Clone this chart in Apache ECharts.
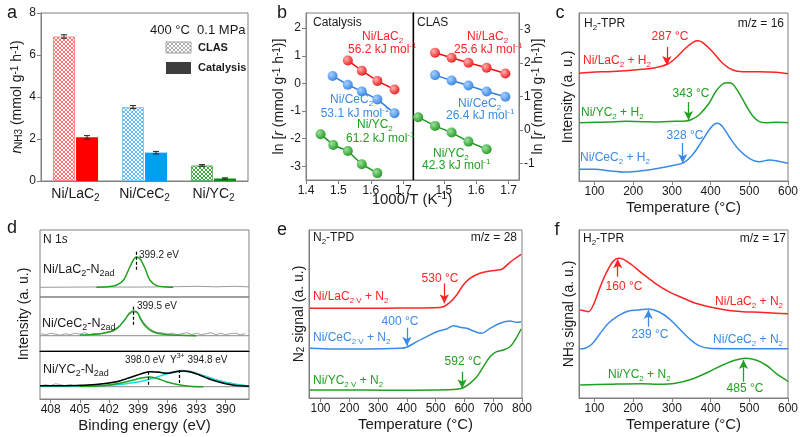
<!DOCTYPE html>
<html>
<head>
<meta charset="utf-8">
<title>Ni/RC2 N2 activation</title>
<script src="https://cdn.jsdelivr.net/npm/echarts@6/dist/echarts.min.js"></script>
<style>html,body{margin:0;padding:0;background:#fff}</style>
</head>
<body>
<div id="chart" style="width:800px;height:437px;"></div>
<script>
// ---------------- data ----------------
// (a) NH3 rate at 400 C, 0.1 MPa
const samples = ['Ni/LaC{s|2}', 'Ni/CeC{s|2}', 'Ni/YC{s|2}'];
const rateCLAS = [6.88, 3.52, 0.74];
const rateCLASErr = [0.08, 0.07, 0.04];
const rateCat = [2.08, 1.35, 0.12];
const rateCatErr = [0.08, 0.06, 0.03];

// (b) Arrhenius plots, [1000/T, ln r]
const arrCatLa = [[1.529, 0.83], [1.572, 0.46], [1.620, 0.09], [1.673, -0.22]];
const arrCatCe = [[1.482, 0.27], [1.529, -0.05], [1.572, -0.29], [1.620, -0.58], [1.673, -1.08]];
const arrCatY  = [[1.445, -1.84], [1.484, -2.23], [1.529, -2.45], [1.572, -2.93], [1.620, -3.25]];
const arrClasLa = [[1.473, 2.31], [1.524, 2.16], [1.576, 2.01], [1.632, 1.86], [1.690, 1.69]];
const arrClasCe = [[1.473, 1.64], [1.524, 1.48], [1.576, 1.33], [1.632, 1.15], [1.690, 0.99]];
const arrClasY  = [[1.421, 0.38], [1.473, 0.12], [1.524, -0.08], [1.576, -0.35], [1.632, -0.58]];

// (c) H2-TPR, m/z = 16  [T, intensity a.u.]
const tprLaH2 = [[60,107.7],[102,109],[136,109.3],[180,110.3],[223,111.7],[257,113.3],[288,116.7],[309,122.7],[335,132.7],[357,139.3],[366,140.3],[379,138.7],[405,129.3],[431,117.7],[457,111],[483,109.3],[526,109.3],[569,108.7],[600,107.2]];
const tprYH2  = [[60,58.3],[102,58.7],[136,59],[180,59.7],[223,59.3],[266,59],[309,59.7],[335,60],[348,61],[370,66],[396,77.7],[413,89.3],[431,97],[444,98.3],[457,97],[474,87.7],[491,76],[509,65],[526,59.3],[543,58.3],[569,58.7],[600,58.3]];
const tprCeH2 = [[60,11.7],[102,11.7],[136,10.3],[180,9],[223,10.3],[266,12.7],[309,16],[331,18.3],[353,26],[374,37.7],[396,51],[409,56.7],[418,57.7],[431,54.3],[448,44.3],[474,31],[500,22.7],[526,19.3],[552,21],[569,20.3],[600,17.7]];
const tprH2Arrows = {la: [287, 134, 116], y: [343, 79, 61], ce: [328, 38, 18]};

// (d) N 1s XPS  [binding energy, intensity a.u.]
const xpsLaFit = [[403.3,0],[401.9,0.7],[401.2,2.3],[400.5,7.3],[400.0,17.3],[399.5,27.3],[399.2,30.3],[398.8,28.3],[398.3,19],[397.8,7.3],[397.1,1.7],[396.1,0.3],[395.4,0]];
const xpsLaRaw = [[409.1,0],[404,0.3],[399.2,0.2],[395,0.6],[393,1],[391,0.5],[389,1],[387.6,0.4]];
const xpsCeFit = [[405.0,0.7],[403.3,1.4],[401.9,4],[401.1,8],[400.4,15.7],[399.9,22.4],[399.5,24.7],[399.1,23.4],[398.7,15.7],[398.2,9],[397.5,4],[396.4,1.4],[394.7,0.4],[393.0,0]];
const xpsCeRaw = [[409,2],[408.5,1],[408,2.5],[407.5,1.5],[407,0.5],[406.5,2],[406,1],[405.5,2.5],[405,1.5],[404.5,3],[404,1],[403.5,2.5],[403,1.5],[402.5,3],[402,4],[401.5,4.5],[401,8],[400.5,14],[400,21],[399.5,24],[399,22],[398.5,14],[398,9],[397.5,5],[397,3],[396.5,3],[396,1.5],[395.5,2.5],[395,1],[394.5,2],[394,3],[393.5,1],[393,2.5],[392.5,1],[392,2],[391.5,3],[391,1],[390.5,2.5],[390,1],[389.5,2],[389,2.5],[388.5,1],[388,2]];
const xpsYSum  = [[409.1,1],[406.7,1],[403.3,2.3],[401.2,5],[399.9,9],[398.5,13.4],[397.8,15],[396.8,14.4],[396.1,13.4],[395.1,15],[394.4,15.7],[393.7,15],[392.7,11.7],[391.7,7.7],[390.6,4.4],[389.3,1.7],[387.6,0.4]];
const xpsYN2   = [[405.0,0.4],[402.6,1],[400.9,3.4],[399.5,6.7],[398.5,9],[397.9,9.7],[397.1,8.4],[396.1,5],[395.1,2.4],[393.7,0.4],[392.3,0]];
const xpsYY3   = [[409.1,0.7],[405.0,0.7],[401.6,1.7],[399.2,4.4],[397.5,8.4],[396.1,12.7],[395.1,15],[394.6,15.7],[393.7,14.7],[392.3,11],[391.0,6.7],[389.6,3.4],[387.6,0.7]];
const xpsYRaw  = [[409,1],[408.5,2],[408,1],[407.5,3],[407,2],[406.5,1],[406,2],[405.5,1],[405,2],[404.5,1],[404,2],[403,2.5],[402,3.5],[401,5.5],[400,8.5],[399.5,10],[399,12],[398.5,13.5],[398,15],[397.5,15.5],[397,15],[396.5,14],[396,14],[395.5,15],[395,16],[394.5,16.5],[394,16],[393.5,15.5],[393,14],[392.5,12],[392,10.5],[391.5,9],[391,7],[390.5,6],[390,4.5],[389.5,4],[389,2.5],[388.5,2],[388,1]];
const xpsLaPeak = [399.2, 35.6, 17.3];
const xpsCePeak = [399.5, 29, 10.7];
const xpsYPeaks = [[398.0, 15, 0], [394.8, 16.7, 2.4]];

// (e) N2-TPD, m/z = 28
const tpdLa = [[63,89.7],[145,89.7],[260,89.7],[376,90],[492,90.3],[527,91.3],[550,95.7],[573,103],[596,113],[619,119.7],[654,124.7],[689,127],[724,128.3],[735,129.7],[758,135.7],[782,140.7],[797,143.7]];
const tpdCe = [[63,49.7],[145,49],[260,49],[376,49.7],[399,50.7],[434,56.3],[469,61.3],[504,66.3],[538,69],[562,72.3],[585,70.7],[608,69.7],[631,67],[660,64.7],[689,69.7],[724,74.7],[758,77],[782,75.7],[797,76.3]];
const tpdY  = [[63,8],[145,8],[260,8],[376,7.7],[492,8],[573,8.7],[596,10.3],[619,14.7],[643,21.3],[666,31.3],[689,41.3],[712,46.3],[735,48],[758,51.3],[776,58],[797,69]];
const tpdArrows = {la: [530, 114.7, 94.7], ce: [400, 70.3, 52.3], y: [592, 26.3, 9.7]};

// (f) H2-TPR after N2, m/z = 17
const nh3La = [[63,88],[76,87],[84,86.3],[97,93],[115,111.3],[132,126.3],[149,137],[162,139.7],[175,138.7],[197,133],[223,124.7],[257,114.7],[292,106.3],[327,100.3],[361,94.7],[396,91.3],[439,88],[483,86.3],[526,85.7],[569,84.7],[600,84.3]];
const nh3Ce = [[63,49],[76,49.7],[93,53.7],[115,64.7],[136,74.7],[162,82.3],[188,87],[214,88],[240,89],[266,86.3],[292,79.7],[318,69.7],[344,59.7],[370,52.3],[396,49.7],[439,49.3],[600,49.3]];
const nh3Y  = [[63,13],[136,13.7],[223,14.3],[266,13.7],[309,14.7],[353,19],[396,26.3],[431,33],[465,38],[491,39.7],[517,38],[543,33],[569,24.7],[595,18],[600,16.3]];
const nh3Arrows = {la: [160, 121.3, 138.7], ce: [239, 71.3, 88], y: [485, 16.3, 38]};

// ---------------- style helpers ----------------
const FONT = 'Arial, "Liberation Sans", sans-serif';
const RED = '#ff2323', BLUE = '#3a8ae6', GREEN = '#22a022', GRAY = '#808080', INK = '#1a1a1a';

function merge(a, b) {
    const out = Object.assign({}, a);
    for (const k in b) {
        const v = b[k];
        if (v && typeof v === 'object' && !Array.isArray(v) && a[k] && typeof a[k] === 'object' && !Array.isArray(a[k])) {
            out[k] = merge(a[k], v);
        } else {
            out[k] = v;
        }
    }
    return out;
}

function rich(fs, color) {
    const c = color || INK;
    const small = Math.round(fs * 0.7);
    return {
        s: {fontSize: small, fill: c, color: c, verticalAlign: 'bottom', fontFamily: FONT},
        p: {fontSize: small, fill: c, color: c, verticalAlign: 'top', fontFamily: FONT},
        i: {fontSize: fs, fill: c, color: c, fontStyle: 'italic', fontFamily: FONT}
    };
}

function hatch(stroke) {
    const c = document.createElement('canvas');
    c.width = 4; c.height = 4;
    const g = c.getContext('2d');
    g.fillStyle = '#fff';
    g.fillRect(0, 0, 4, 4);
    g.strokeStyle = stroke;
    g.lineWidth = 1;
    g.beginPath();
    g.moveTo(0, 0); g.lineTo(4, 4);
    g.moveTo(4, 0); g.lineTo(0, 4);
    g.stroke();
    return {image: c, repeat: 'repeat'};
}

function ball(c0, c1) {
    return {type: 'radial', x: 0.35, y: 0.35, r: 0.75,
        colorStops: [{offset: 0, color: c0}, {offset: 1, color: c1}]};
}

// text placed on the figure
function T(x, y, text, o) {
    o = o || {};
    const fs = o.size || 12;
    const color = o.color || INK;
    return {
        type: 'text', x: x, y: y, silent: true, rotation: o.rot || 0, z: 50,
        style: {
            text: text, fill: color, fontSize: fs, fontFamily: FONT,
            fontWeight: o.bold ? 'bold' : 'normal',
            lineHeight: fs + 4,
            align: o.align || 'left', verticalAlign: 'middle',
            textAlign: o.align || 'left', textVerticalAlign: 'middle',
            rich: rich(fs, color)
        }
    };
}

// ---------------- layout ----------------
const grids = [
    {left: 41,  top: 13,  width: 207, height: 168},  // a
    {left: 306, top: 13,  width: 107, height: 167},  // b catalysis
    {left: 413, top: 13,  width: 106, height: 167},  // b CLAS
    {left: 579, top: 13,  width: 209, height: 168},  // c
    {left: 40,  top: 230, width: 209, height: 67},   // d LaC2
    {left: 40,  top: 297, width: 209, height: 54},   // d CeC2
    {left: 40,  top: 351, width: 209, height: 48},   // d YC2
    {left: 309, top: 230, width: 213, height: 168},  // e
    {left: 579, top: 230, width: 209, height: 168}   // f
].map(g => Object.assign({show: true, borderColor: GRAY, borderWidth: 1, outerBoundsMode: 'none'}, g));

const axisBase = {
    type: 'value',
    axisLine: {show: true, onZero: false, lineStyle: {color: GRAY, width: 1}},
    axisTick: {show: true, inside: false, length: 4, lineStyle: {color: GRAY}},
    axisLabel: {color: INK, fontSize: 12, fontFamily: FONT, margin: 5},
    splitLine: {show: false},
    nameTextStyle: {color: INK, fontSize: 15, fontFamily: FONT}
};
function ax(o) { return merge(axisBase, o); }
const noAxis = {axisLabel: {show: false}, axisTick: {show: false}};
const tempX = (grid, max, ticks) => ax({
    gridIndex: grid, min: 60, max: max, name: 'Temperature (°C)', nameLocation: 'middle', nameGap: 19,
    axisLabel: {customValues: ticks}, axisTick: {customValues: ticks}
});
const yName = {nameLocation: 'middle', nameRotate: 90, nameTextStyle: {fontSize: 14, rich: rich(14)}};

const xAxes = [
    ax({type: 'category', gridIndex: 0, data: samples, axisTick: {show: false},
        axisLabel: {interval: 0, fontSize: 14, margin: 5, rich: rich(14), lineHeight: 17}}),
    ax({gridIndex: 1, min: 1.4, max: 1.73,
        axisLabel: {customValues: [1.4, 1.5, 1.6, 1.7], formatter: v => v.toFixed(1)},
        axisTick: {customValues: [1.4, 1.5, 1.6, 1.7]}}),
    ax({gridIndex: 2, min: 1.405, max: 1.732,
        axisLabel: {customValues: [1.5, 1.6, 1.7], formatter: v => v.toFixed(1)},
        axisTick: {customValues: [1.5, 1.6, 1.7]}}),
    tempX(3, 600, [100, 200, 300, 400, 500, 600]),
    ax(merge(noAxis, {gridIndex: 4, min: 387.6, max: 409.1, inverse: true, axisLine: {show: false}})),
    ax(merge(noAxis, {gridIndex: 5, min: 387.6, max: 409.1, inverse: true, axisLine: {show: false}})),
    ax({gridIndex: 6, min: 387.6, max: 409.1, inverse: true,
        name: 'Binding energy (eV)', nameLocation: 'middle', nameGap: 19,
        axisLabel: {customValues: [390, 393, 396, 399, 402, 405, 408]},
        axisTick: {customValues: [390, 393, 396, 399, 402, 405, 408]}}),
    tempX(7, 800, [100, 200, 300, 400, 500, 600, 700, 800]),
    tempX(8, 600, [100, 200, 300, 400, 500, 600]),
    // black divider above the Ni/YC2 spectrum
    ax(merge(noAxis, {gridIndex: 6, position: 'top', min: 387.6, max: 409.1, inverse: true,
        axisLine: {lineStyle: {color: '#000', width: 1.2}}}))
];

const yAxes = [
    ax(merge(yName, {gridIndex: 0, min: 0, max: 8, interval: 2, nameGap: 17,
        name: '{i|r}{s|NH3} (mmol g{p|-1} h{p|-1})'})),
    ax(merge(yName, {gridIndex: 1, min: -3.5, max: 2.55, nameGap: 15,
        name: 'ln [{i|r} (mmol g{p|-1} h{p|-1})]',
        axisLabel: {customValues: [-3, -2, -1, 0, 1, 2]}, axisTick: {customValues: [-3, -2, -1, 0, 1, 2]}})),
    ax(merge(yName, {gridIndex: 2, position: 'right', min: -1.5, max: 3.5, nameGap: 12, nameMoveOverlap: false,
        name: 'ln [{i|r} (mmol g{p|-1} h{p|-1})]',
        axisLabel: {customValues: [-1, 0, 1, 2, 3]}, axisTick: {customValues: [-1, 0, 1, 2, 3]}})),
    ax(merge(noAxis, merge(yName, {gridIndex: 3, min: 0, max: 168, nameGap: 4, name: 'Intensity (a. u.)'}))),
    ax(merge(noAxis, {gridIndex: 4, min: -9.7, max: 57.3, axisLine: {show: false}})),
    ax(merge(noAxis, {gridIndex: 5, min: -15.3, max: 38.7, axisLine: {show: false}})),
    ax(merge(noAxis, {gridIndex: 6, min: -12.3, max: 35.7, axisLine: {show: false}})),
    ax(merge(noAxis, merge(yName, {gridIndex: 7, min: 0, max: 168, nameGap: 3, name: 'N{s|2} signal (a. u.)'}))),
    ax(merge(noAxis, merge(yName, {gridIndex: 8, min: 0, max: 168, nameGap: 3, name: 'NH{s|3} signal (a. u.)'}))),
    // black divider between catalysis and CLAS halves
    ax(merge(noAxis, {gridIndex: 2, position: 'left', min: -1.5, max: 3.5,
        axisLine: {lineStyle: {color: '#000', width: 1.3}}}))
];

// ---------------- series ----------------
function curve(grid, data, color, extra) {
    return merge({type: 'line', xAxisIndex: grid, yAxisIndex: grid, data: data, smooth: 0.35,
        symbol: 'none', silent: true, z: 3, lineStyle: {color: color, width: 1.5}, itemStyle: {color: color}},
        extra || {});
}
function arrow(a, color) {
    return {markLine: {silent: true, symbol: ['none', 'arrow'], symbolSize: [7, 9], label: {show: false},
        lineStyle: {color: color, width: 1.3, type: 'solid'}, emphasis: {disabled: true},
        data: [[{coord: [a[0], a[1]]}, {coord: [a[0], a[2]]}]]}};
}
function dashes(list) {
    return {markLine: {silent: true, symbol: ['none', 'none'], label: {show: false},
        lineStyle: {color: '#000', width: 1.2, type: [3, 2]}, emphasis: {disabled: true},
        data: list.map(p => [{coord: [p[0], p[1]]}, {coord: [p[0], p[2]]}])}};
}
function arrh(grid, yIdx, data, color, c0) {
    return {type: 'line', xAxisIndex: grid, yAxisIndex: yIdx, data: data, silent: true, z: 4,
        symbol: 'circle', symbolSize: 10, lineStyle: {color: color, width: 1.5},
        itemStyle: {color: ball(c0, color)}};
}
function errBars(vals, errs, shift) {
    return {
        type: 'custom', xAxisIndex: 0, yAxisIndex: 0, silent: true, z: 6,
        data: vals.map((v, i) => [i, v, errs[i]]),
        renderItem: function (params, api) {
            const i = api.value(0), v = api.value(1), e = api.value(2);
            const hi = api.coord([i, v + e]), lo = api.coord([i, v - e]);
            const x = hi[0] + shift;
            const st = {stroke: '#222', lineWidth: 1};
            return {type: 'group', children: [
                {type: 'line', shape: {x1: x, y1: hi[1], x2: x, y2: lo[1]}, style: st},
                {type: 'line', shape: {x1: x - 3, y1: hi[1], x2: x + 3, y2: hi[1]}, style: st},
                {type: 'line', shape: {x1: x - 3, y1: lo[1], x2: x + 3, y2: lo[1]}, style: st}
            ]};
        }
    };
}

const clasFill = [hatch('#ff6f6f'), hatch('#5fbdf5'), hatch('#3ea83e')];
const clasEdge = ['#ff8a8a', '#7ccaf7', '#5fb85f'];
const catFill = ['#ff0000', '#00a0f0', '#0e8a0e'];

const series = [
    {type: 'bar', xAxisIndex: 0, yAxisIndex: 0, barWidth: 22, barGap: '5%', silent: true,
        data: rateCLAS.map((v, i) => ({value: v, itemStyle: {color: clasFill[i], borderColor: clasEdge[i], borderWidth: 1}}))},
    {type: 'bar', xAxisIndex: 0, yAxisIndex: 0, barWidth: 22, barGap: '5%', silent: true,
        data: rateCat.map((v, i) => ({value: v, itemStyle: {color: catFill[i]}}))},
    errBars(rateCLAS, rateCLASErr, -11.5),
    errBars(rateCat, rateCatErr, 11.5),

    arrh(1, 1, arrCatLa, '#ee1010', '#ffb0b0'),
    arrh(1, 1, arrCatCe, '#2f7fe0', '#a8d0ff'),
    arrh(1, 1, arrCatY, '#1c961c', '#9be09b'),
    arrh(2, 2, arrClasLa, '#ee1010', '#ffb0b0'),
    arrh(2, 2, arrClasCe, '#2f7fe0', '#a8d0ff'),
    arrh(2, 2, arrClasY, '#1c961c', '#9be09b'),

    curve(3, tprLaH2, RED, arrow(tprH2Arrows.la, RED)),
    curve(3, tprYH2, GREEN, arrow(tprH2Arrows.y, GREEN)),
    curve(3, tprCeH2, BLUE, arrow(tprH2Arrows.ce, BLUE)),

    curve(4, xpsLaRaw, '#9a9a9a', {smooth: false, lineStyle: {width: 1}}),
    curve(4, xpsLaFit, GREEN, dashes([xpsLaPeak])),
    curve(5, [[409.1, 0], [387.6, 0]], '#8a8a8a', {smooth: false, lineStyle: {width: 1}}),
    curve(5, xpsCeRaw, '#a0a0a0', {smooth: false, lineStyle: {width: 1}}),
    curve(5, xpsCeFit, GREEN, dashes([xpsCePeak])),
    curve(6, [[409.1, 0], [387.6, 0]], '#8a8a8a', {smooth: false, lineStyle: {width: 1}}),
    curve(6, xpsYRaw, '#a8a8a8', {smooth: false, lineStyle: {width: 1}}),
    curve(6, xpsYY3, '#19dde0'),
    curve(6, xpsYN2, GREEN),
    curve(6, xpsYSum, '#000', dashes(xpsYPeaks)),

    curve(7, tpdLa, RED, arrow(tpdArrows.la, RED)),
    curve(7, tpdCe, BLUE, arrow(tpdArrows.ce, BLUE)),
    curve(7, tpdY, GREEN, arrow(tpdArrows.y, GREEN)),

    curve(8, nh3La, RED, arrow(nh3Arrows.la, RED)),
    curve(8, nh3Ce, BLUE, arrow(nh3Arrows.ce, BLUE)),
    curve(8, nh3Y, GREEN, arrow(nh3Arrows.y, GREEN))
];

// ---------------- labels ----------------
const graphic = [
    T(12, 13, 'a', {size: 18, align: 'center'}),
    T(282, 13, 'b', {size: 18, align: 'center'}),
    T(560, 13, 'c', {size: 18, align: 'center'}),
    T(12, 228, 'd', {size: 18, align: 'center'}),
    T(282, 230, 'e', {size: 18, align: 'center'}),
    T(557, 230, 'f', {size: 18, align: 'center'}),

    // a
    T(150, 30, '400 °C  0.1 MPa', {size: 13}),
    {type: 'rect', silent: true, shape: {x: 166, y: 42, width: 25, height: 11},
        style: {fill: hatch('#b0b0b0'), stroke: '#a0a0a0', lineWidth: 1}},
    {type: 'rect', silent: true, shape: {x: 166, y: 62, width: 25, height: 12},
        style: {fill: '#3d3d3d'}},
    T(198, 47.5, 'CLAS', {size: 11, bold: true}),
    T(198, 68, 'Catalysis', {size: 11, bold: true}),

    // b
    T(313, 23, 'Catalysis'),
    T(417, 23, 'CLAS'),
    T(362, 36.7, 'Ni/LaC{s|2}', {color: RED}),
    T(348, 50, '56.2 kJ mol{p|-1}', {color: RED}),
    T(330, 100, 'Ni/CeC{s|2}', {color: BLUE}),
    T(320.7, 113.3, '53.1 kJ mol{p|-1}', {color: BLUE}),
    T(357, 125, 'Ni/YC{s|2}', {color: GREEN}),
    T(346, 138.3, '61.2 kJ mol{p|-1}', {color: GREEN}),
    T(467, 36.7, 'Ni/LaC{s|2}', {color: RED}),
    T(454, 50, '25.6 kJ mol{p|-1}', {color: RED}),
    T(458, 103.3, 'Ni/CeC{s|2}', {color: BLUE}),
    T(446, 116, '26.4 kJ mol{p|-1}', {color: BLUE}),
    T(433, 154, 'Ni/YC{s|2}', {color: GREEN}),
    T(422, 166, '42.3 kJ mol{p|-1}', {color: GREEN}),
    T(412, 200, '1000/T (K{p|-1})', {size: 15, align: 'center'}),

    // c
    T(584, 24, 'H{s|2}-TPR'),
    T(784, 24, 'm/z = 16', {align: 'right'}),
    T(670, 36.7, '287 °C', {color: RED, align: 'center'}),
    T(583, 60.7, 'Ni/LaC{s|2} + H{s|2}', {color: RED}),
    T(691, 93.3, '343 °C', {color: GREEN, align: 'center'}),
    T(581, 113, 'Ni/YC{s|2} + H{s|2}', {color: GREEN}),
    T(685, 136, '328 °C', {color: BLUE, align: 'center'}),
    T(580, 158, 'Ni/CeC{s|2} + H{s|2}', {color: BLUE}),

    // d
    T(43, 240, 'N 1{i|s}'),
    T(139, 255, '399.2 eV', {size: 10}),
    T(43, 270, 'Ni/LaC{s|2}-N{s|2ad}', {size: 12.5}),
    T(137, 306.7, '399.5 eV', {size: 10}),
    T(42, 324, 'Ni/CeC{s|2}-N{s|2ad}', {size: 12.5}),
    T(145, 360, '398.0 eV', {size: 10, align: 'center'}),
    T(170, 360, 'Y{p|3+} 394.8 eV', {size: 10}),
    T(43, 370, 'Ni/YC{s|2}-N{s|2ad}', {size: 12.5}),
    T(24, 314, 'Intensity (a. u.)', {size: 14, align: 'center', rot: Math.PI / 2}),

    // e
    T(313, 238, 'N{s|2}-TPD'),
    T(517, 238, 'm/z = 28', {align: 'right'}),
    T(440, 279, '530 °C', {color: RED, align: 'center'}),
    T(313, 296.7, 'Ni/LaC{s|2 V} + N{s|2}', {color: RED}),
    T(400, 321.7, '400 °C', {color: BLUE, align: 'center'}),
    T(313, 337.7, 'Ni/CeC{s|2 V} + N{s|2}', {color: BLUE}),
    T(463, 361.7, '592 °C', {color: GREEN, align: 'center'}),
    T(313, 381, 'Ni/YC{s|2 V} + N{s|2}', {color: GREEN}),

    // f
    T(583, 239, 'H{s|2}-TPR'),
    T(786, 239, 'm/z = 17', {align: 'right'}),
    T(624, 286.7, '160 °C', {color: RED, align: 'center'}),
    T(783, 301.7, 'Ni/LaC{s|2} + N{s|2}', {color: RED, align: 'right'}),
    T(650, 335, '239 °C', {color: BLUE, align: 'center'}),
    T(783, 340, 'Ni/CeC{s|2} + N{s|2}', {color: BLUE, align: 'right'}),
    T(608, 375, 'Ni/YC{s|2} + N{s|2}', {color: GREEN}),
    T(745, 388.3, '485 °C', {color: GREEN, align: 'center'})
];

const chart = echarts.init(document.getElementById('chart'), null, {renderer: 'canvas'});
chart.setOption({
    backgroundColor: '#fff',
    animation: false,
    textStyle: {fontFamily: FONT},
    grid: grids,
    xAxis: xAxes,
    yAxis: yAxes,
    series: series,
    graphic: graphic
});
</script>
</body>
</html>
